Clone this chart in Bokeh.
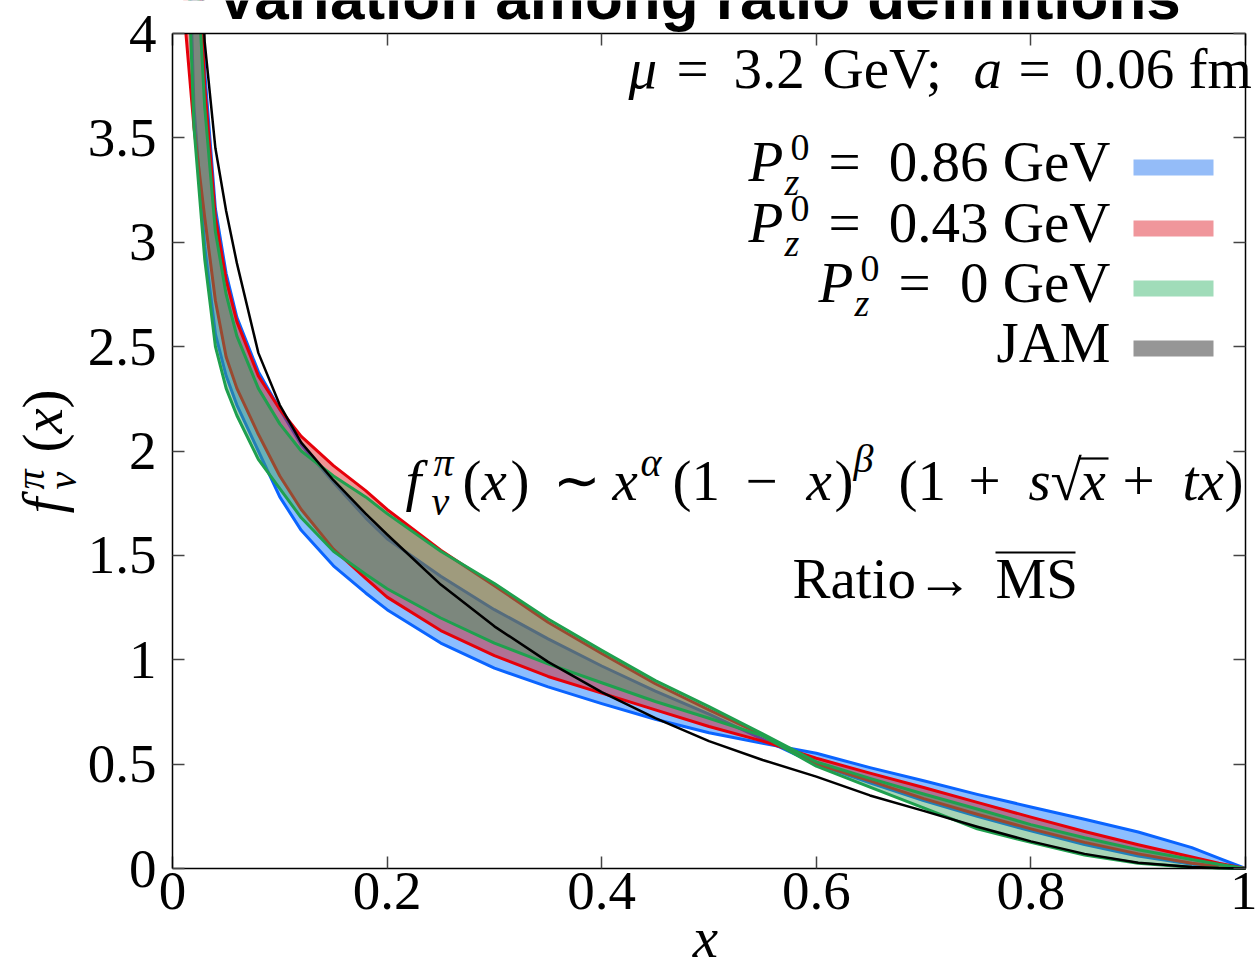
import math
from bokeh.plotting import figure
from bokeh.models import (Label, BoxAnnotation, LinearAxis, FixedTicker, Range1d,
                          CustomLabelingPolicy)
from bokeh.embed import file_html
from bokeh.resources import INLINE

# ---------------- data ----------------
x_grid = [0.01, 0.02, 0.03, 0.04, 0.05, 0.06, 0.08, 0.10, 0.12, 0.15, 0.18, 0.20,
          0.25, 0.30, 0.35, 0.40, 0.45, 0.50, 0.55, 0.60, 0.65, 0.70, 0.75, 0.80,
          0.85, 0.90, 0.95, 0.975, 1.00]

# P_z^0 = 0.86 GeV band edges
pz086_edge1 = [5.4, 3.65, 2.98, 2.56, 2.36, 2.22, 2.00, 1.78, 1.62, 1.45, 1.32, 1.24,
               1.08, 0.96, 0.87, 0.79, 0.715, 0.65, 0.60, 0.552, 0.483, 0.42, 0.355, 0.295,
               0.236, 0.175, 0.10, 0.05, 0.0]
pz086_edge2 = [7.2, 4.95, 3.82, 3.16, 2.85, 2.64, 2.38, 2.20, 2.03, 1.85, 1.68, 1.58,
               1.40, 1.24, 1.10, 0.97, 0.85, 0.74, 0.62, 0.50, 0.41, 0.325, 0.25, 0.18,
               0.115, 0.06, 0.02, 0.007, 0.0]
# P_z^0 = 0.43 GeV band edges
pz043_edge1 = [4.15, 3.55, 3.12, 2.72, 2.45, 2.30, 2.08, 1.88, 1.72, 1.53, 1.39, 1.30,
               1.14, 1.02, 0.92, 0.84, 0.76, 0.68, 0.61, 0.528, 0.457, 0.388, 0.317, 0.246,
               0.177, 0.114, 0.055, 0.025, 0.0]
pz043_edge2 = [7.0, 4.85, 3.75, 3.12, 2.82, 2.62, 2.36, 2.20, 2.07, 1.93, 1.81, 1.72,
               1.525, 1.355, 1.18, 1.03, 0.885, 0.76, 0.64, 0.50, 0.42, 0.335, 0.26, 0.19,
               0.125, 0.07, 0.025, 0.01, 0.0]
# P_z^0 = 0 GeV band edges
pz0_edge1 = [5.0, 3.55, 2.92, 2.50, 2.30, 2.17, 1.96, 1.82, 1.68, 1.52, 1.41, 1.34,
             1.20, 1.08, 0.98, 0.89, 0.80, 0.72, 0.635, 0.49, 0.39, 0.29, 0.19, 0.125,
             0.065, 0.025, 0.006, 0.002, 0.0]
pz0_edge2 = [6.6, 4.6, 3.65, 3.05, 2.75, 2.55, 2.30, 2.13, 2.00, 1.88, 1.78, 1.70,
             1.52, 1.365, 1.195, 1.045, 0.90, 0.775, 0.645, 0.511, 0.432, 0.357, 0.285, 0.21,
             0.147, 0.09, 0.043, 0.02, 0.0]
# JAM
jam = [8.0, 5.3, 3.96, 3.45, 3.15, 2.90, 2.47, 2.22, 2.04, 1.86, 1.70, 1.60,
       1.36, 1.16, 0.99, 0.845, 0.72, 0.61, 0.52, 0.44, 0.35, 0.276, 0.20, 0.13,
       0.07, 0.028, 0.007, 0.002, 0.0]

x_ticks = [0, 0.2, 0.4, 0.6, 0.8, 1.0]
x_tick_labels = ["0", "0.2", "0.4", "0.6", "0.8", "1"]
y_ticks = [0, 0.5, 1, 1.5, 2, 2.5, 3, 3.5, 4]
y_tick_labels = ["0", "0.5", "1", "1.5", "2", "2.5", "3", "3.5", "4"]

legend_labels = ["0.86 GeV", "0.43 GeV", "0 GeV", "JAM"]
legend_swatch_colors = ["#94bcf8", "#f0969b", "#a0dcb9", "#969696"]

# ---------------- styling ----------------
BLUE_FILL, RED_FILL, GREEN_FILL = "#006eff", "#dc1414", "#3fa260"
BLUE_LINE, RED_LINE, GREEN_LINE = "#0a64ff", "#e6000a", "#1fa04e"
FILL_ALPHA = 0.45
SERIF = "Liberation Serif"

W, H = 1257, 974
FL, FR, FT, FB = 172, 1245, 33, 868          # where the data box sits on the page
XMIN, XMAX, YMIN, YMAX = 0.0, 1.0, 0.0, 4.0
sx = (FR - FL) / (XMAX - XMIN)
sy = (FB - FT) / (YMAX - YMIN)

# the drawing frame covers the whole canvas; axes are pinned to the data box
p = figure(width=W, height=H,
           x_range=Range1d(XMIN - FL / sx, XMAX + (W - FR) / sx),
           y_range=Range1d(YMIN - (H - FB) / sy, YMAX + FT / sy),
           output_backend="svg", toolbar_location=None, min_border=0)
p.background_fill_color = "white"
p.border_fill_color = "white"
p.outline_line_color = None
p.xgrid.visible = False
p.ygrid.visible = False


def style_axis(ax, ticks, bounds, loc, labels=None):
    ax.ticker = FixedTicker(ticks=ticks)
    ax.fixed_location = loc
    ax.bounds = bounds
    ax.level = "overlay"
    ax.axis_line_color = "black"
    ax.axis_line_width = 1.5
    ax.major_tick_in = 12
    ax.major_tick_out = 0
    ax.minor_tick_in = 0
    ax.minor_tick_out = 0
    ax.major_tick_line_color = "#444444"
    ax.major_tick_line_width = 1.5
    if labels is not None:
        ax.major_label_text_font = SERIF
        ax.major_label_text_font_size = "55px"
        ax.major_label_text_color = "black"
        ax.major_label_overrides = dict(zip(ticks, labels))
    else:
        ax.major_label_policy = CustomLabelingPolicy(
            code="for (const i of Array.from(indices)) { indices.unset(i) }\nreturn indices")


style_axis(p.xaxis[0], x_ticks, (XMIN, XMAX), YMIN, x_tick_labels)
p.xaxis[0].major_label_standoff = 4
style_axis(p.yaxis[0], y_ticks, (YMIN, YMAX), XMIN, y_tick_labels)
p.yaxis[0].major_label_standoff = 16

top_ax = LinearAxis()
p.add_layout(top_ax, "above")
style_axis(top_ax, x_ticks, (XMIN, XMAX), YMAX)
right_ax = LinearAxis()
p.add_layout(right_ax, "right")
style_axis(right_ax, y_ticks, (YMIN, YMAX), XMAX)

# ---------------- bands ----------------
bands = [
    (pz086_edge1, pz086_edge2, BLUE_FILL, BLUE_LINE),
    (pz043_edge1, pz043_edge2, RED_FILL, RED_LINE),
    (pz0_edge1, pz0_edge2, GREEN_FILL, GREEN_LINE),
]
for e1, e2, fc, lc in bands:
    p.varea(x=x_grid, y1=e1, y2=e2, fill_color=fc, fill_alpha=FILL_ALPHA)
    p.line(x_grid, e1, line_color=lc, line_width=3, line_join="round")
    p.line(x_grid, e2, line_color=lc, line_width=3, line_join="round")

p.line(x_grid, jam, line_color="black", line_width=2.5, line_join="round")

# white mask: curves stop at the top of the data box (y = 4)
p.add_layout(BoxAnnotation(left=XMIN - 0.01, right=XMAX, bottom=YMAX,
                           top=YMAX + FT / sy + 0.2,
                           fill_color="white", fill_alpha=1.0, line_color=None))


# ---------------- texts ----------------
def dx(px):
    return XMIN + (px - FL) / sx


def dy(py):
    return YMIN + (FB - py) / sy


SHIFT = 0.35   # Bokeh places the label anchor about this many ems above the baseline


def txt(px, py, s, size=57, style="normal", align="left", angle=0.0, font=SERIF):
    off = SHIFT * size
    if angle == 0.0:
        ax_, ay_ = px, py - off
    else:  # text rotated 90deg counter-clockwise: "down" points to +x
        ax_, ay_ = px - off, py
    p.add_layout(Label(x=dx(ax_), y=dy(ay_), text=s, text_font=font,
                       text_font_size=f"{size}px", text_font_style=style,
                       text_align=align, text_baseline="alphabetic",
                       angle=angle, text_color="black"))


def bar(px0, px1, py, thick=2.2):
    p.add_layout(BoxAnnotation(left=dx(px0), right=dx(px1), top=dy(py - thick / 2),
                               bottom=dy(py + thick / 2), fill_color="black",
                               fill_alpha=1.0, line_color=None))


# title (cut off at top, as in the reference)
txt(698, 19, "Variation among ratio definitions", size=62, style="bold",
    align="center", font="Liberation Sans")

# mu / lattice spacing
B1 = 88
txt(628, B1, "μ", style="italic")
txt(676, B1, "=")
txt(733, B1, "3.2")
txt(822, B1, "GeV;")
txt(973, B1, "a", style="italic")
txt(1018, B1, "=")
txt(1074, B1, "0.06")
txt(1188, B1, "fm")

# legend
rows = [181, 242, 302, 362]
p_x = [748, 748, 818]
eq_x = [828, 828, 898]
for i in range(3):
    b = rows[i]
    txt(p_x[i], b, "P", style="italic")
    txt(p_x[i] + 42, b - 21, "0", size=38)
    txt(p_x[i] + 36, b + 14, "z", size=38, style="italic")
    txt(eq_x[i], b, "=")
    txt(1110, b, legend_labels[i], align="right")
txt(1110, rows[3], legend_labels[3], align="right")
for i, c in enumerate(legend_swatch_colors):
    cy = rows[i] - 14
    p.add_layout(BoxAnnotation(left=dx(1133), right=dx(1213), top=dy(cy - 8),
                               bottom=dy(cy + 8), fill_color=c, fill_alpha=1.0,
                               line_color=None))

# functional form
FB2 = 500
txt(405, FB2, "f", style="italic")
txt(431, FB2 + 15, "v", size=40, style="italic")
txt(433, FB2 - 24, "π", size=40, style="italic")
txt(462, FB2, "(")
txt(481, FB2, "x", style="italic")
txt(510, FB2, ")")
txt(552, FB2, "∼")
txt(612, FB2, "x", style="italic")
txt(640, FB2 - 24, "α", size=40, style="italic")
txt(672, FB2, "(1")
txt(745, FB2, "−")
txt(806, FB2, "x", style="italic")
txt(834, FB2, ")")
txt(853, FB2 - 28, "β", size=40, style="italic")
txt(898, FB2, "(1")
txt(968, FB2, "+")
txt(1028, FB2, "s", style="italic")
txt(1050, FB2, "√")
bar(1078, 1108, 458)
txt(1080, FB2, "x", style="italic")
txt(1122, FB2, "+")
txt(1182, FB2, "t", style="italic")
txt(1198, FB2, "x", style="italic")
txt(1224, FB2, ")")

# scheme conversion
txt(792, 598, "Ratio→")
txt(995, 598, "MS")
bar(995, 1075, 552)

# axis titles
txt(705, 957, "x", style="italic", align="center")
A = math.pi / 2
txt(62, 513, "f", style="italic", angle=A)
txt(44, 489, "π", size=40, style="italic", angle=A)
txt(76, 489, "v", size=40, style="italic", angle=A)
txt(62, 452, "(", angle=A)
txt(62, 433, "x", style="italic", angle=A)
txt(62, 408, ")", angle=A)

open("out.html", "w").write(file_html(p, INLINE))
